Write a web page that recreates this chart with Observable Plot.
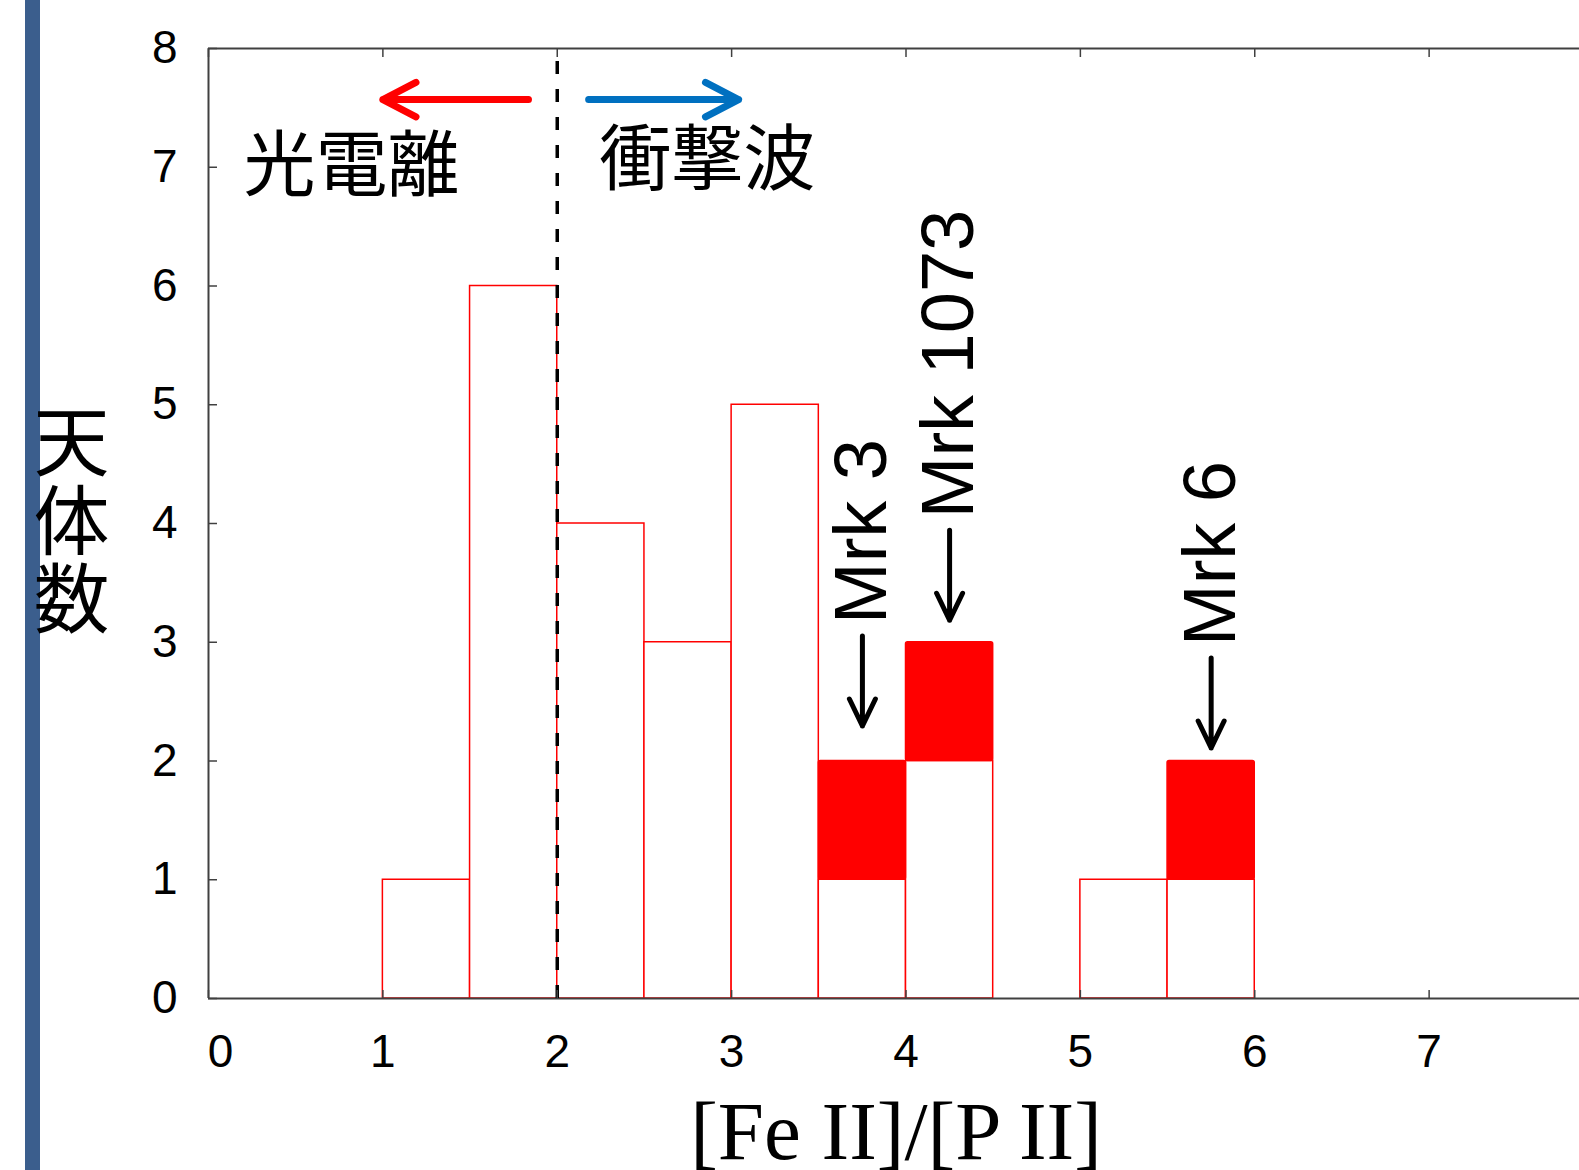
<!DOCTYPE html>
<html><head><meta charset="utf-8">
<script src="https://cdn.jsdelivr.net/npm/d3@7"></script>
<script src="https://cdn.jsdelivr.net/npm/@observablehq/plot@0.6"></script>
<style>
html,body{margin:0;padding:0;overflow:hidden;background:#fff;width:1579px;height:1170px}
#bar{position:absolute;left:25px;top:0;width:15px;height:1170px;background:#3B5E8D}
#chart{position:absolute;left:0;top:0;width:1650px}
</style></head><body>
<div id="bar"></div>
<div id="chart"></div>
<script>
// ---- data ----
const binStarts = [1, 1.5, 2, 2.5, 3, 3.5, 4, 4.5, 5, 5.5];
const binWidth = 0.5;
const openCounts = [1, 6, 4, 3, 5, 1, 2, 0, 1, 1];
const markedCounts = [0, 0, 0, 0, 0, 1, 1, 0, 0, 1];
const markedNames = ["Mrk 3", "Mrk 1073", "Mrk 6"];
const markedBinStarts = [3.5, 4, 5.5];
const xTicks = [0, 1, 2, 3, 4, 5, 6, 7, 8];
const xTickLabels = [1, 2, 3, 4, 5, 6, 7];
const yTicks = [0, 1, 2, 3, 4, 5, 6, 7, 8];
const boundaryX = 2;
const regionLabels = ["光電離", "衝撃波"];
const regionLabelX = [0.82, 2.86];
const regionLabelY = [7.0, 7.05];
const redArrow = {x1: 1.835, x2: 1.0, y: 7.57};
const blueArrow = {x1: 2.18, x2: 3.04, y: 7.57};
const xLabel = "[Fe II]/[P II]";
const yLabel = "天\n体\n数";

// ---- derived tables ----
const rows = binStarts.map((s, i) => ({x1: s, x2: s + binWidth, open: openCounts[i], marked: markedCounts[i]}));
const openRows = rows.filter(d => d.open > 0);
const markedRows = rows.filter(d => d.marked > 0);
const labelRows = markedNames.map((name, i) => {
  const r = rows.find(d => d.x1 === markedBinStarts[i]);
  return {name, x: r.x1 + binWidth / 2, y: r.open + r.marked};
});
const labelGap = [35, 22, 13];   // px between bar top and arrow tip
const arrowLen = 90;

const downArrow = {
  draw(context, l) {
    const h = 27, w = 13;
    context.moveTo(0, 0);
    context.lineTo(0, -l);
    context.moveTo(-w, -l + h);
    context.lineTo(0, -l);
    context.lineTo(w, -l + h);
  }
};

const W = 1650;
const sans = "'Liberation Sans', Arial, sans-serif";
const cjk = "'Noto Sans CJK JP', sans-serif";
const frameColor = "#404040";

const chart = Plot.plot({
  width: W, height: 1170,
  marginLeft: 208, marginRight: W - 1603, marginTop: 48, marginBottom: 172,
  x: {domain: [0, 8]},
  y: {domain: [0, 8]},
  style: {background: "transparent", fontFamily: sans, color: "#000", overflow: "visible", maxWidth: "none"},
  marks: [
    Plot.rect(openRows, {x1: "x1", x2: "x2", y1: 0, y2: "open", fill: "white", stroke: "#FF0000", strokeWidth: 1.5}),
    Plot.rect(markedRows, {x1: "x1", x2: "x2", y1: "open", y2: d => d.open + d.marked, fill: "#FF0000", stroke: "#FF0000", strokeWidth: 1.5, rx: 2}),
    Plot.ruleY([0, 8], {stroke: frameColor, strokeWidth: 2}),
    Plot.ruleX([0], {stroke: frameColor, strokeWidth: 2}),
    Plot.ruleX([boundaryX], {y1: 0, y2: 8, stroke: "#000", strokeWidth: 3.5, strokeDasharray: "13,15"}),
    // inward ticks
    Plot.axisY(yTicks, {anchor: "left", tickSize: 9, dx: 9, tickFormat: () => "", label: null, stroke: frameColor, strokeWidth: 1.5}),
    Plot.axisX(xTicks, {anchor: "bottom", tickSize: 8, dy: -8, tickFormat: () => "", label: null, stroke: frameColor, strokeWidth: 1.5}),
    Plot.axisX(xTicks, {anchor: "top", tickSize: 8, dy: 8, tickFormat: () => "", label: null, stroke: frameColor, strokeWidth: 1.5}),
    // tick labels
    Plot.axisY(yTicks, {anchor: "left", tickSize: 0, tickPadding: 31, fontSize: 46, label: null, tickFormat: d => String(d)}),
    Plot.axisX(xTickLabels, {anchor: "bottom", tickSize: 0, tickPadding: 36, fontSize: 46, label: null, tickFormat: d => String(d)}),
    Plot.axisX([0], {anchor: "bottom", tickSize: 0, tickPadding: 36, fontSize: 46, label: null, dx: 12, tickFormat: d => String(d)}),
    // axis titles
    Plot.text([xLabel], {frameAnchor: "bottom", dy: 160, dx: -10, lineAnchor: "bottom", fontFamily: "'Liberation Serif', 'Times New Roman', serif", fontSize: 83}),
    Plot.text([yLabel], {frameAnchor: "left", dx: -137, lineAnchor: "middle", textAnchor: "middle", fontFamily: cjk, fontSize: 76, lineHeight: 1.03}),
    // region annotations
    Plot.text(regionLabels, {x: (d, i) => regionLabelX[i], y: (d, i) => regionLabelY[i], text: d => d, fontFamily: cjk, fontSize: 72}),
    Plot.arrow([redArrow], {x1: "x1", x2: "x2", y1: "y", y2: "y", stroke: "#FF0000", strokeWidth: 7, headLength: 8, headAngle: 55, strokeLinecap: "round", strokeLinejoin: "round"}),
    Plot.arrow([blueArrow], {x1: "x1", x2: "x2", y1: "y", y2: "y", stroke: "#0070C0", strokeWidth: 7, headLength: 8, headAngle: 55, strokeLinecap: "round", strokeLinejoin: "round"}),
    // object labels with downward arrows
    ...labelRows.map((r, i) => Plot.vector([r], {x: "x", y: "y", length: arrowLen, rotate: 180, anchor: "end", shape: downArrow, stroke: "#000", strokeWidth: 5, dy: -labelGap[i]})),
    ...labelRows.map((r, i) => Plot.text([r], {x: "x", y: "y", text: "name", rotate: -90, textAnchor: "start", lineAnchor: "middle", fontSize: 74, dy: -labelGap[i] - arrowLen - 12}))
  ]
});
document.getElementById("chart").appendChild(chart);
</script>
</body></html>
